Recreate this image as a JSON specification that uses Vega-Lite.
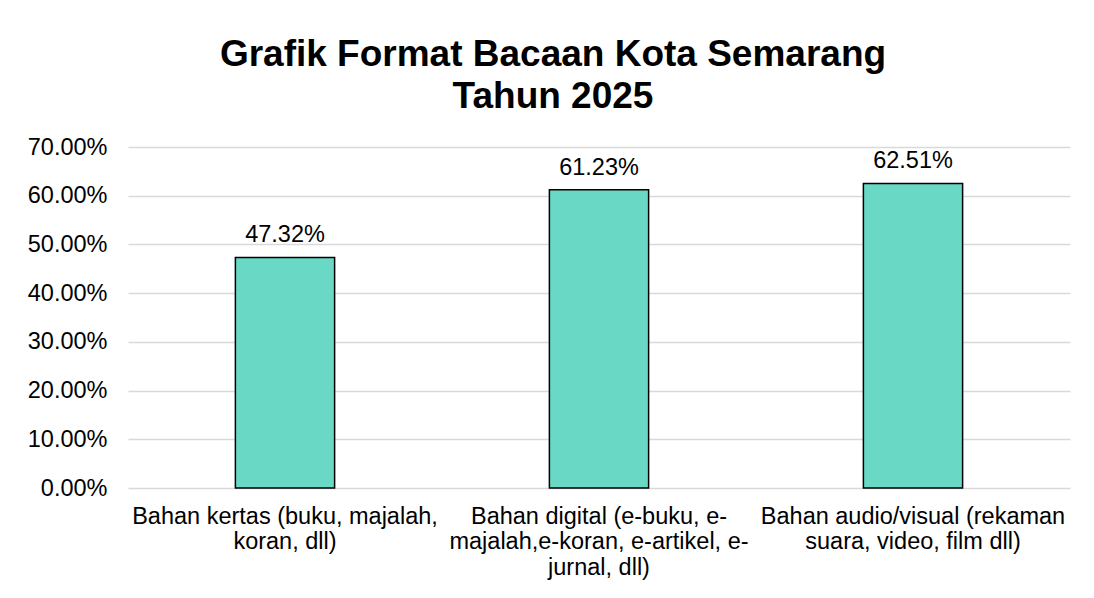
{
  "$schema": "https://vega.github.io/schema/vega-lite/v6.json",
  "autosize": "none",
  "width": 942,
  "height": 341,
  "padding": {"left": 128, "top": 147, "right": 24, "bottom": 110},
  "background": "white",
  "title": {
    "text": ["Grafik Format Bacaan Kota Semarang", "Tahun 2025"],
    "font": "Liberation Sans",
    "fontSize": 37,
    "fontWeight": "bold",
    "color": "#000000",
    "lineHeight": 42,
    "anchor": "middle",
    "dx": -46,
    "offset": 19
  },
  "data": {
    "values": [
      {"format": "Bahan kertas (buku, majalah, koran, dll)", "value": 0.4732},
      {"format": "Bahan digital (e-buku, e-majalah,e-koran, e-artikel, e-jurnal, dll)", "value": 0.6123},
      {"format": "Bahan audio/visual (rekaman suara, video, film dll)", "value": 0.6251}
    ]
  },
  "encoding": {
    "x": {
      "field": "format",
      "type": "nominal",
      "sort": null,
      "scale": {"paddingInner": 0.684, "paddingOuter": 0.342},
      "axis": {
        "title": null,
        "labelAngle": 0,
        "domain": false,
        "ticks": false,
        "grid": false,
        "labelFont": "Liberation Sans",
        "labelFontSize": 23.5,
        "labelColor": "#000000",
        "labelLineHeight": 25.5,
        "labelPadding": 16,
        "labelOverlap": false,
        "labelBound": false,
        "labelLimit": 0,
        "labelExpr": "datum.value == 'Bahan kertas (buku, majalah, koran, dll)' ? ['Bahan kertas (buku, majalah,', 'koran, dll)'] : datum.value == 'Bahan audio/visual (rekaman suara, video, film dll)' ? ['Bahan audio/visual (rekaman', 'suara, video, film dll)'] : ['Bahan digital (e-buku, e-', 'majalah,e-koran, e-artikel, e-', 'jurnal, dll)']"
      }
    },
    "y": {
      "field": "value",
      "type": "quantitative",
      "scale": {"domain": [0, 0.7], "nice": false},
      "axis": {
        "title": null,
        "format": ".2%",
        "values": [0, 0.1, 0.2, 0.3, 0.4, 0.5, 0.6, 0.7],
        "domain": false,
        "ticks": false,
        "grid": true,
        "gridColor": "#D9D9D9",
        "gridWidth": 1.5,
        "labelFont": "Liberation Sans",
        "labelFontSize": 23.5,
        "labelColor": "#000000",
        "labelPadding": 21
      }
    }
  },
  "layer": [
    {
      "mark": {"type": "bar", "fill": "#69D9C5", "stroke": "#000000", "strokeWidth": 1.5}
    },
    {
      "mark": {"type": "text", "font": "Liberation Sans", "fontSize": 23.5, "color": "#000000", "baseline": "alphabetic", "dy": -15},
      "encoding": {
        "text": {"field": "value", "type": "quantitative", "format": ".2%"}
      }
    }
  ],
  "config": {"view": {"stroke": null}}
}
